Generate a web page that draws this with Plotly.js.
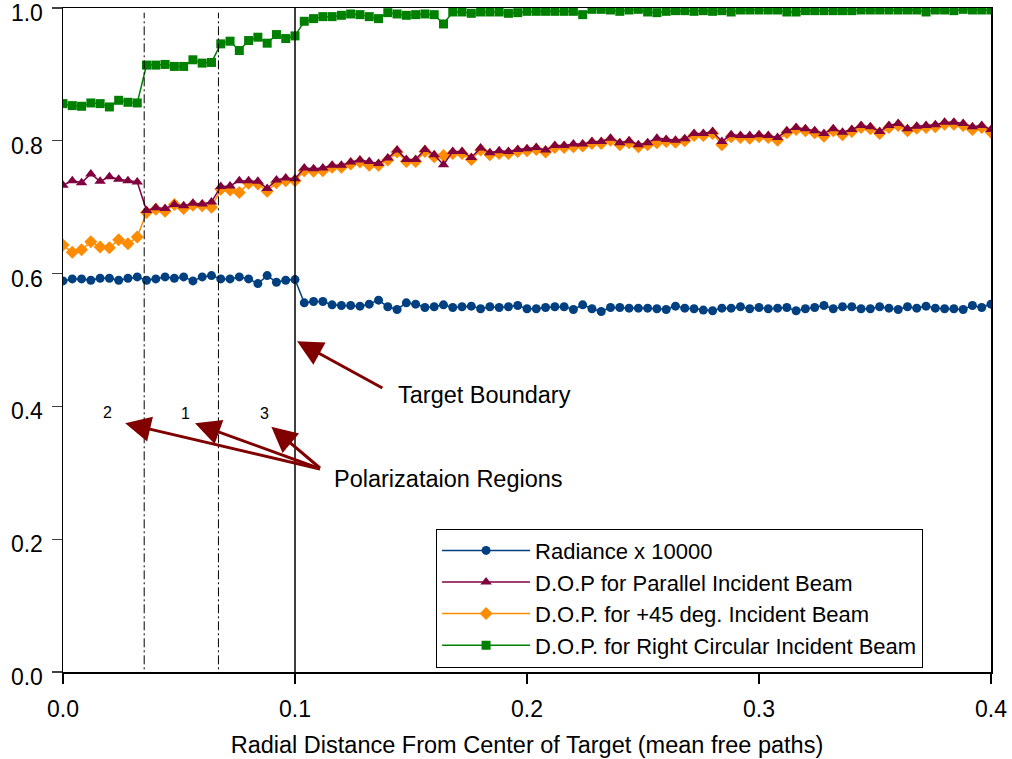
<!DOCTYPE html>
<html>
<head>
<meta charset="utf-8">
<script src="https://cdn.plot.ly/plotly-3.0.1.min.js"></script>
<style>html,body{margin:0;padding:0;background:#fff;}#chart{width:1012px;height:759px;}</style>
</head>
<body>
<div id="chart"></div>
<script>
// Radial distance (mean free paths)
var xDist = [0,0.004,0.008,0.012,0.016,0.02,0.024,0.028,0.032,0.036,0.04,0.044,0.048,0.052,0.056,0.06,0.064,0.068,0.072,0.076,0.08,0.084,0.088,0.092,0.096,0.1,
0.104,0.108,0.112,0.116,0.12,0.124,0.128,0.132,0.136,0.14,0.144,0.148,0.152,0.156,0.16,0.164,0.168,0.172,0.176,0.18,0.184,0.188,0.192,0.196,0.2,
0.204,0.208,0.212,0.216,0.22,0.224,0.228,0.232,0.236,0.24,0.244,0.248,0.252,0.256,0.26,0.264,0.268,0.272,0.276,0.28,0.284,0.288,0.292,0.296,0.3,
0.304,0.308,0.312,0.316,0.32,0.324,0.328,0.332,0.336,0.34,0.344,0.348,0.352,0.356,0.36,0.364,0.368,0.372,0.376,0.38,0.384,0.388,0.392,0.396,0.4];

var radiance = [0.589,0.592,0.592,0.590,0.593,0.593,0.590,0.593,0.595,0.590,0.592,0.595,0.593,0.595,0.589,0.595,0.597,0.592,0.592,0.595,0.592,0.585,0.597,0.587,0.590,0.591,
0.556,0.558,0.558,0.553,0.552,0.552,0.551,0.554,0.560,0.550,0.546,0.556,0.554,0.549,0.550,0.553,0.549,0.550,0.551,0.547,0.550,0.549,0.550,0.552,0.547,
0.547,0.549,0.550,0.550,0.546,0.553,0.547,0.543,0.549,0.549,0.548,0.548,0.548,0.547,0.546,0.551,0.548,0.547,0.545,0.544,0.548,0.548,0.550,0.547,0.549,
0.547,0.548,0.549,0.544,0.547,0.549,0.552,0.547,0.550,0.550,0.547,0.547,0.550,0.548,0.546,0.550,0.548,0.551,0.548,0.547,0.547,0.546,0.552,0.549,0.554];

var dopParallel = [0.733,0.740,0.737,0.750,0.739,0.746,0.742,0.740,0.738,0.695,0.699,0.698,0.704,0.702,0.706,0.705,0.708,0.731,0.732,0.740,0.740,0.739,0.728,0.741,0.744,0.743,
0.759,0.758,0.759,0.763,0.763,0.768,0.771,0.769,0.766,0.774,0.786,0.772,0.772,0.787,0.779,0.764,0.784,0.784,0.775,0.789,0.782,0.785,0.784,0.787,0.788,
0.790,0.786,0.793,0.793,0.795,0.795,0.799,0.799,0.804,0.797,0.800,0.794,0.797,0.804,0.802,0.801,0.803,0.811,0.811,0.814,0.799,0.809,0.808,0.808,0.809,
0.808,0.805,0.815,0.820,0.818,0.815,0.811,0.818,0.813,0.817,0.823,0.821,0.814,0.823,0.826,0.818,0.822,0.823,0.824,0.828,0.828,0.826,0.821,0.823,0.817];

var dop45 = [0.643,0.632,0.636,0.648,0.640,0.639,0.651,0.645,0.655,0.692,0.697,0.694,0.704,0.698,0.703,0.702,0.700,0.727,0.726,0.722,0.736,0.735,0.724,0.737,0.740,0.740,
0.755,0.754,0.755,0.760,0.760,0.765,0.768,0.763,0.763,0.771,0.783,0.769,0.769,0.784,0.776,0.778,0.781,0.781,0.772,0.786,0.779,0.781,0.781,0.784,0.785,
0.787,0.783,0.790,0.790,0.791,0.792,0.796,0.796,0.801,0.794,0.797,0.791,0.794,0.797,0.799,0.798,0.800,0.808,0.808,0.811,0.794,0.806,0.805,0.804,0.806,
0.805,0.801,0.812,0.817,0.815,0.812,0.807,0.815,0.809,0.814,0.820,0.818,0.811,0.820,0.823,0.815,0.819,0.820,0.821,0.825,0.825,0.823,0.817,0.820,0.813];

var dopCircular = [0.856,0.853,0.852,0.857,0.856,0.851,0.861,0.858,0.857,0.914,0.914,0.915,0.912,0.912,0.922,0.917,0.918,0.946,0.950,0.936,0.951,0.956,0.947,0.960,0.954,0.958,
0.980,0.984,0.987,0.987,0.989,0.991,0.990,0.987,0.984,0.993,0.991,0.989,0.990,0.991,0.990,0.976,0.994,0.994,0.992,0.994,0.994,0.994,0.992,0.993,0.995,
0.995,0.995,0.995,0.995,0.995,0.990,0.998,0.998,0.997,0.995,0.997,0.998,0.994,0.993,0.995,0.996,0.996,0.995,0.996,0.995,0.996,0.994,0.997,0.997,0.997,
0.997,0.997,0.994,0.994,0.996,0.996,0.996,0.996,0.996,0.996,0.997,0.997,0.997,0.997,0.997,0.997,0.997,0.994,0.997,0.997,0.996,0.998,0.997,0.997,0.997];

var seriesNames = ['Radiance x 10000','D.O.P for Parallel Incident Beam','D.O.P. for +45 deg. Incident Beam','D.O.P. for Right Circular Incident Beam'];
var xTickVals = [0,0.1,0.2,0.3,0.4];
var xTickText = ['0.0','0.1','0.2','0.3','0.4'];
var yTickVals = [0,0.2,0.4,0.6,0.8,1.0];
var yTickText = ['0.0','0.2','0.4','0.6','0.8','1.0'];

var FONT = 'Liberation Sans, Arial, sans-serif';
var ARROW = '#800000';

var traces = [
  {x:xDist, y:radiance, name:seriesNames[0], mode:'lines+markers', legendrank:1,
   line:{color:'#004080', width:1.5}, marker:{symbol:'circle', size:9, color:'#004080'}},
  {x:xDist, y:dop45, name:seriesNames[2], mode:'lines+markers', legendrank:3,
   line:{color:'#FF8C00', width:1.5}, marker:{symbol:'diamond', size:10, color:'#FF8C00'}},
  {x:xDist, y:dopParallel, name:seriesNames[1], mode:'lines+markers', legendrank:2,
   line:{color:'#800040', width:1.5}, marker:{symbol:'triangle-up', size:10, color:'#800040'}},
  {x:xDist, y:dopCircular, name:seriesNames[3], mode:'lines+markers', legendrank:4,
   line:{color:'#008000', width:1.5}, marker:{symbol:'square', size:9, color:'#008000'}}
];

function arrow(xh, yh, xt, yt) {
  return {x:xh, y:yh, ax:xt, ay:yt, xref:'x', yref:'y', axref:'x', ayref:'y',
          text:'', showarrow:true, arrowhead:2, arrowsize:1.7, arrowwidth:3,
          arrowcolor:ARROW, standoff:0, startstandoff:0};
}
function label(txt, x, y, size, anchor) {
  return {x:x, y:y, xref:'x', yref:'y', text:txt, showarrow:false,
          xanchor:anchor, yanchor:'middle', font:{family:FONT, size:size, color:'black'}};
}

var layout = {
  width:1012, height:759,
  margin:{l:63, r:21, t:8, b:87},
  paper_bgcolor:'white', plot_bgcolor:'white',
  font:{family:FONT, size:23, color:'black'},
  showlegend:true,
  legend:{x:0.402, y:0.216, xanchor:'left', yanchor:'top', bgcolor:'white',
          bordercolor:'black', borderwidth:1, font:{family:FONT, size:22, color:'black'},
          itemwidth:88, traceorder:'normal'},
  xaxis:{range:[0,0.4], tickvals:xTickVals, ticktext:xTickText, showgrid:false, zeroline:false,
         showline:true, linecolor:'black', linewidth:1.5, mirror:true,
         ticks:'outside', ticklen:10, tickwidth:1.2, tickcolor:'black',
         ticklabelstandoff:6,
         tickfont:{family:FONT, size:23, color:'black'},
         title:{text:'Radial Distance From Center of Target (mean free paths)', standoff:15,
                font:{family:FONT, size:23.5, color:'black'}}},
  yaxis:{range:[0,1], tickvals:yTickVals, ticktext:yTickText, showgrid:false, zeroline:false,
         showline:true, linecolor:'black', linewidth:1.5, mirror:true,
         ticks:'outside', ticklen:10, tickwidth:1.2, tickcolor:'#404040',
         ticklabelstandoff:4, ticklabelshift:5, ticklabeloverflow:'allow',
         tickfont:{family:FONT, size:23, color:'black'}},
  shapes:[
    {type:'line', xref:'x', yref:'y', x0:0.035, x1:0.035, y0:-0.014, y1:0.993,
     line:{color:'black', width:1, dash:'9px,3px,2px,3px'}},
    {type:'line', xref:'x', yref:'y', x0:0.067, x1:0.067, y0:-0.014, y1:0.993,
     line:{color:'black', width:1, dash:'9px,3px,2px,3px'}},
    {type:'line', xref:'x', yref:'y', x0:0.1, x1:0.1, y0:-0.014, y1:1,
     line:{color:'black', width:1.5}}
  ],
  annotations:[
    arrow(0.1009, 0.498, 0.1383, 0.4265),
    arrow(0.0268, 0.3745, 0.1114, 0.3053),
    arrow(0.0569, 0.3745, 0.1114, 0.3053),
    arrow(0.0898, 0.3693, 0.1114, 0.3053),
    label('Target Boundary', 0.1434, 0.4167, 23.5, 'left'),
    label('Polarizataion Regions', 0.1159, 0.2902, 23.5, 'left'),
    label('2', 0.0193, 0.3911, 16, 'center'),
    label('1', 0.0527, 0.3896, 16, 'center'),
    label('3', 0.0870, 0.3896, 16, 'center')
  ],
  hovermode:false
};

Plotly.newPlot('chart', traces, layout, {displayModeBar:false, staticPlot:true});
</script>
</body>
</html>
